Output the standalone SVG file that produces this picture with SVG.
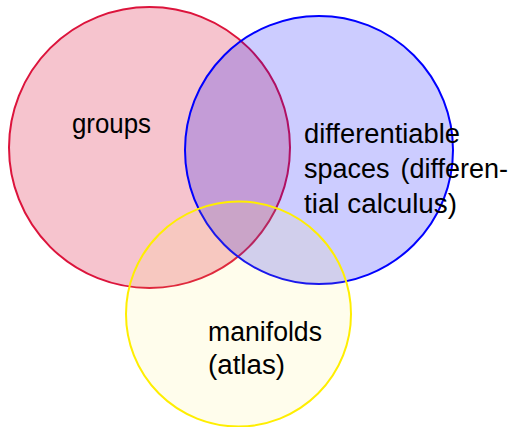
<svg xmlns="http://www.w3.org/2000/svg" width="520" height="427" viewBox="0 0 520 427">
<style>
.lbl{font-family:"Liberation Sans",Arial,sans-serif;font-size:27px;fill:#000}
.c{stroke-width:2}
</style>
<rect width="520" height="427" fill="#fff"/>
<g id="groups">
<circle class="c" cx="149.5" cy="147.5" r="140.5" fill="#dc143c" fill-opacity="0.25" stroke="#dc143c"/>
</g>
<g id="differentiable-spaces">
<circle class="c" cx="319" cy="150" r="134" fill="#0000ff" fill-opacity="0.2" stroke="#0000ff"/>
</g>
<g id="manifolds">
<circle class="c" cx="238.5" cy="314" r="112.5" fill="#ffee44" fill-opacity="0.1" stroke="#ffee00"/>
</g>
<g id="labels">
<text class="lbl" x="72" y="133" textLength="79" lengthAdjust="spacingAndGlyphs">groups</text>
<text class="lbl" x="304" y="143" textLength="156" lengthAdjust="spacingAndGlyphs">differentiable</text>
<text class="lbl" x="304" y="178">spaces</text>
<text class="lbl" x="508" y="178" text-anchor="end">(differen-</text>
<text class="lbl" x="304" y="213" textLength="153" lengthAdjust="spacingAndGlyphs">tial calculus)</text>
<text class="lbl" x="208" y="341" textLength="114" lengthAdjust="spacingAndGlyphs">manifolds</text>
<text class="lbl" x="208" y="374" textLength="77" lengthAdjust="spacingAndGlyphs">(atlas)</text>
</g>
</svg>
